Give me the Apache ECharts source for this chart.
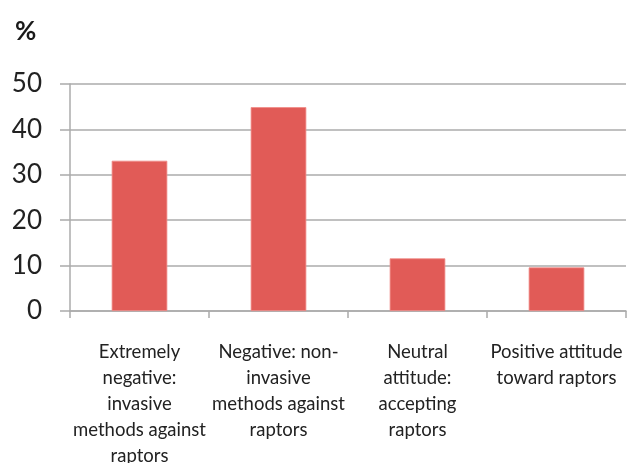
<!DOCTYPE html>
<html><head><meta charset="utf-8">
<script src="https://cdn.jsdelivr.net/npm/echarts@6/dist/echarts.min.js"></script>
<style>html,body{margin:0;padding:0;background:#fff}#c{width:627px;height:463px}</style>
</head><body><div id="c"></div>
<script>
const categories = [
  "Extremely\nnegative:\ninvasive\nmethods against\nraptors",
  "Negative: non-\ninvasive\nmethods against\nraptors",
  "Neutral\nattitude:\naccepting\nraptors",
  "Positive attitude\ntoward raptors"
];
const values = [33.1, 44.9, 11.6, 9.6];
const yTicks = { min: 0, max: 50, interval: 10 };
const unitLabel = "%";

const chart = echarts.init(document.getElementById('c'), null, {renderer: 'canvas'});
chart.setOption({
  animation: false,
  backgroundColor: '#fff',
  title: {
    text: unitLabel, left: 10, top: 14,
    textStyle: { fontFamily: 'Lato', fontSize: 26, fontWeight: 'bold', color: '#1a1a1a' }
  },
  grid: { left: 70, right: 1, top: 84, bottom: 152, containLabel: false, outerBoundsMode: 'none' },
  xAxis: {
    type: 'category', data: categories, boundaryGap: true,
    axisLine: { show: true, lineStyle: { color: '#ababab', width: 1.5 } },
    axisTick: { show: true, length: 7, lineStyle: { color: '#ababab', width: 1.5 } },
    axisLabel: {
      interval: 0, margin: 28, color: '#222', fontFamily: 'Lato', fontSize: 18.5,
      lineHeight: 26, align: 'center', verticalAlign: 'top'
    }
  },
  yAxis: {
    type: 'value', min: yTicks.min, max: yTicks.max, interval: yTicks.interval,
    axisLine: { show: true, lineStyle: { color: '#ababab', width: 1.5 } },
    axisTick: { show: true, length: 10, lineStyle: { color: '#ababab', width: 1.5 } },
    splitLine: { show: true, lineStyle: { color: '#ababab', width: 1.5 } },
    axisLabel: { margin: 28, color: '#222', fontFamily: 'Lato', fontSize: 26 }
  },
  series: [{
    type: 'bar', data: values, barWidth: '40%',
    itemStyle: { color: '#E15B57', borderColor: '#F08A86', borderWidth: 0.8 }
  }]
});
</script></body></html>
